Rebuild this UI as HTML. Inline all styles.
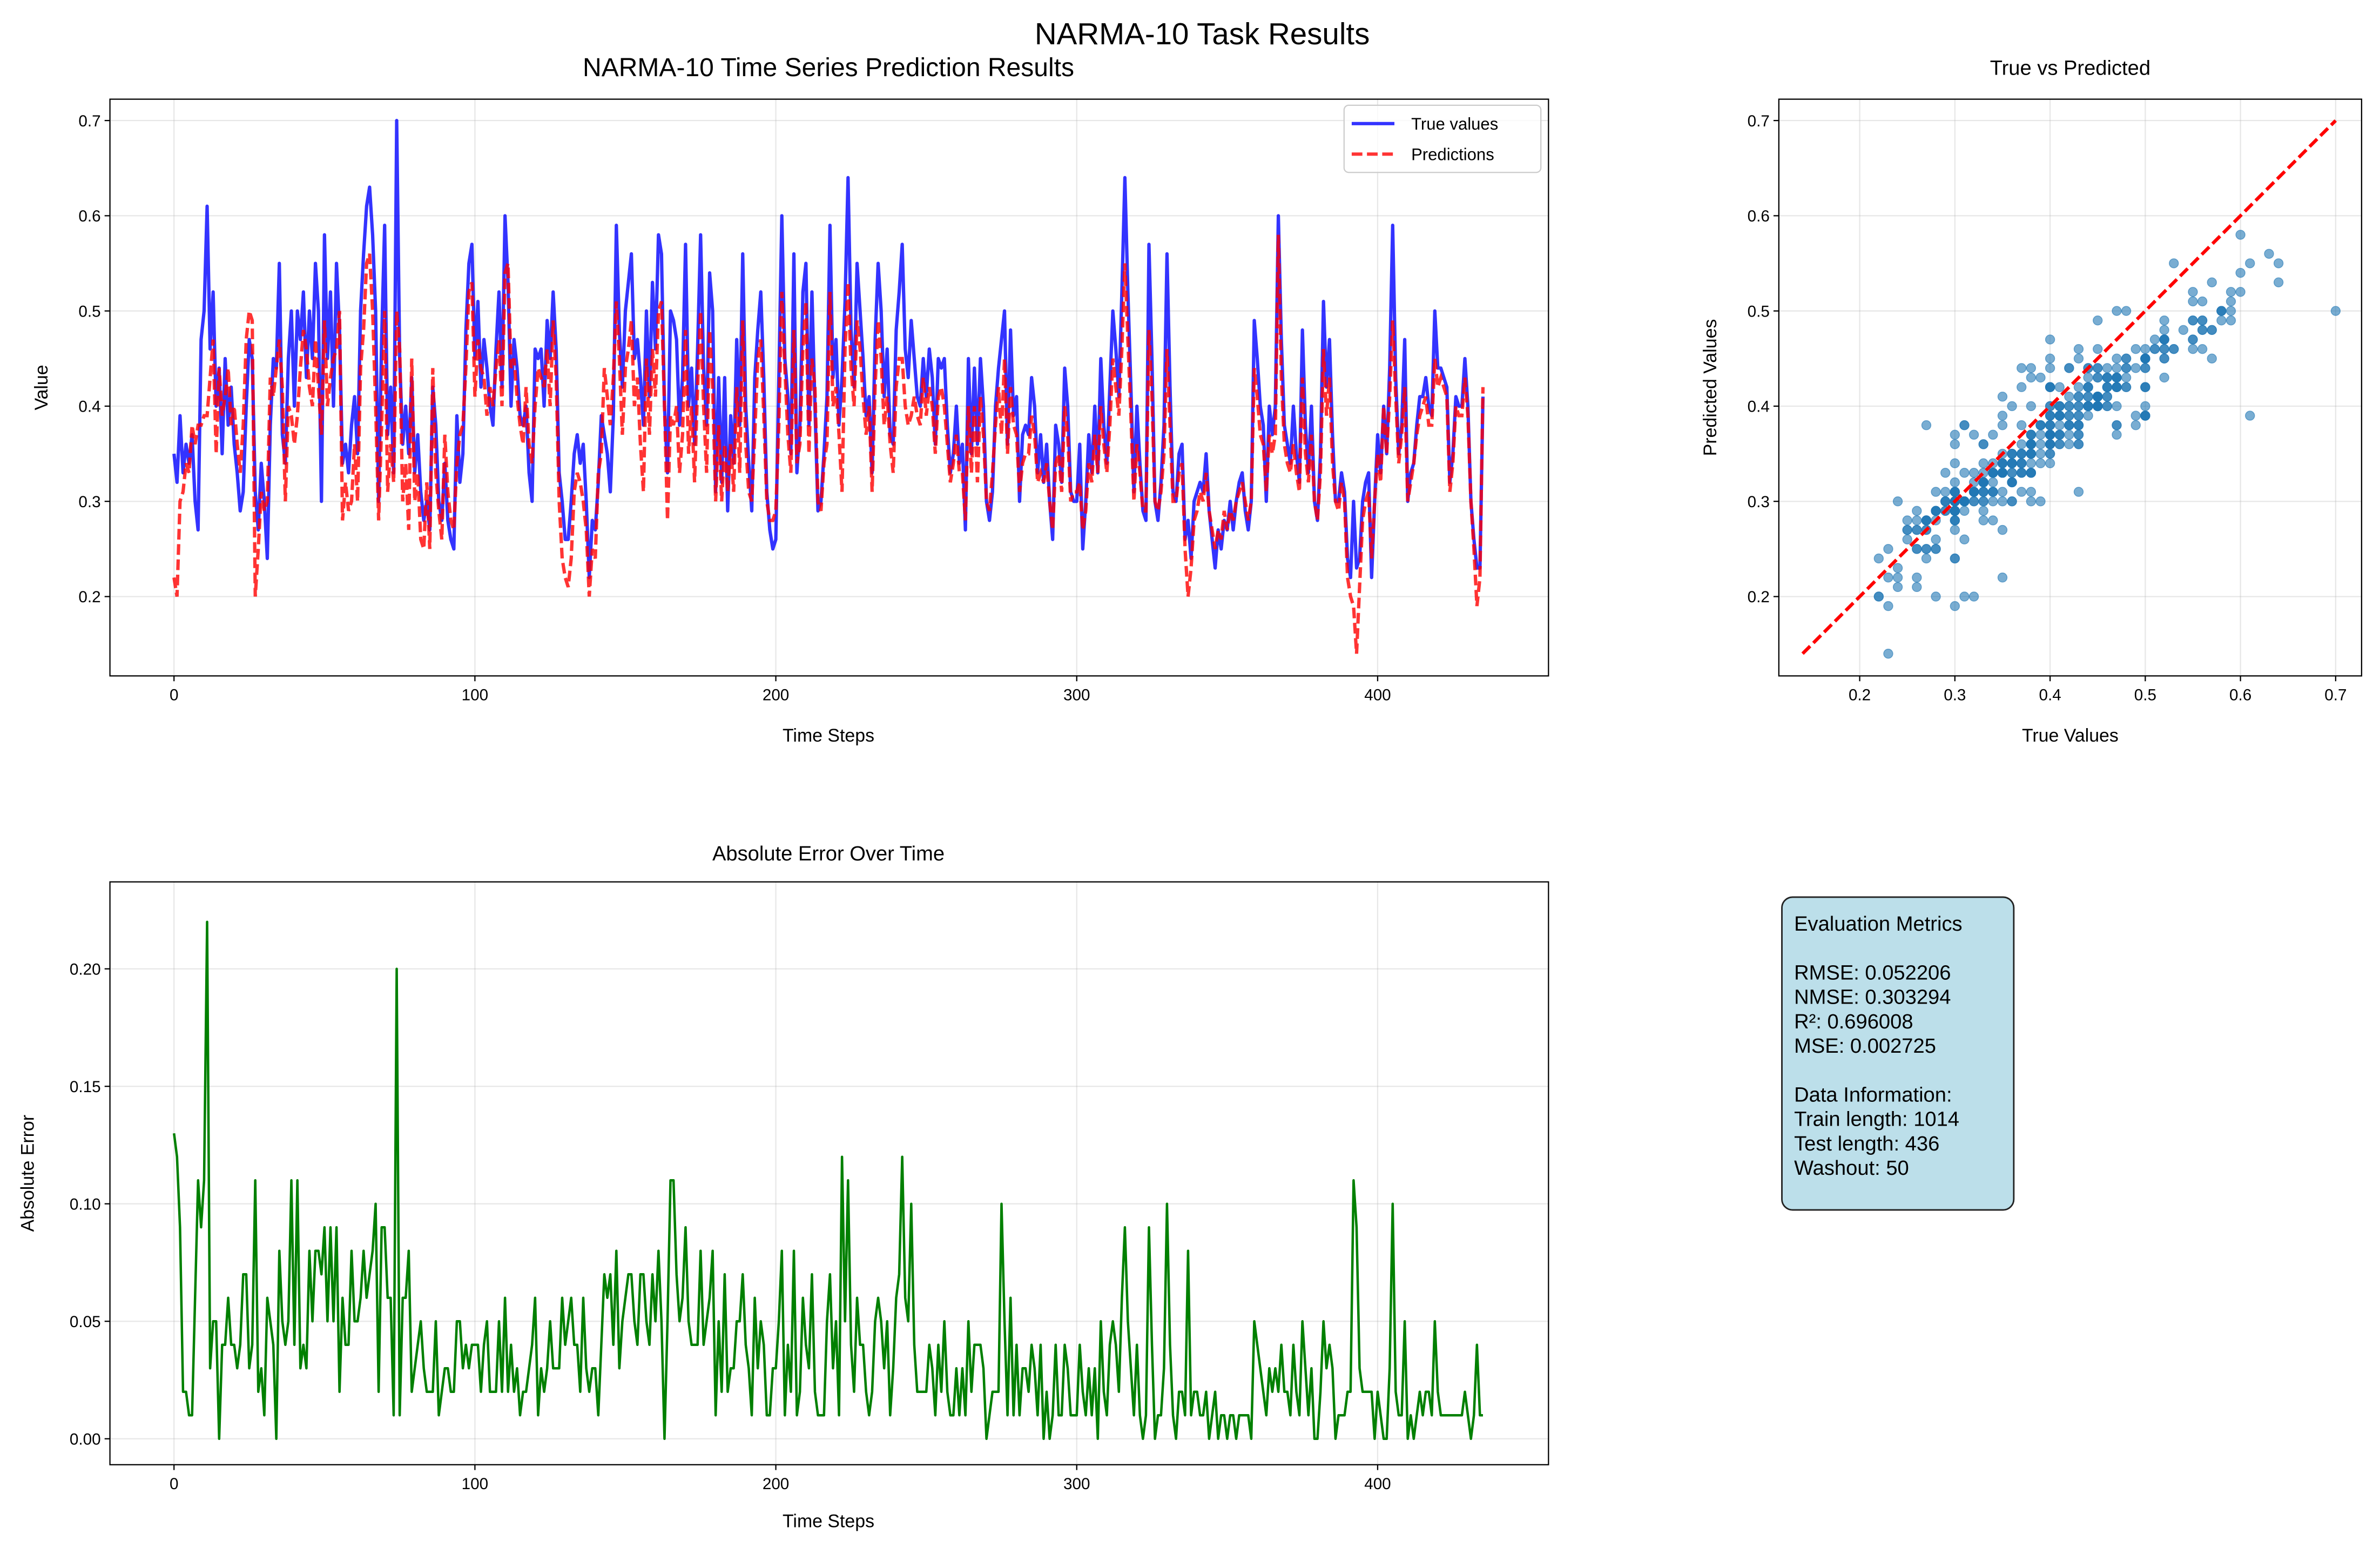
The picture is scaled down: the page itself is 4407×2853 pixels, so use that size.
<!DOCTYPE html>
<html><head><meta charset="utf-8"><style>
html,body{margin:0;padding:0;background:#fff;}
svg{display:block;font-family:"Liberation Sans","DejaVu Sans",sans-serif;}
</style></head><body>
<svg id="fig" xmlns="http://www.w3.org/2000/svg" width="4407" height="2853" viewBox="0 0 1560 1010">
<rect x="0" y="0" width="1560" height="1010" fill="#fff"/>
<text x="788" y="29" font-size="20" text-anchor="middle">NARMA-10 Task Results</text>
<g id="g-main"></g>
<g id="g-scatter"></g>
<g id="g-err"></g>
<g>
<rect x="1168" y="588" width="152" height="205" rx="7" ry="7" fill="#bcdfea" stroke="#222" stroke-width="1"/>
<text font-size="13.5" fill="#000">
<tspan x="1176" y="610">Evaluation Metrics</tspan>
<tspan x="1176" y="642">RMSE: 0.052206</tspan>
<tspan x="1176" y="658">NMSE: 0.303294</tspan>
<tspan x="1176" y="674">R²: 0.696008</tspan>
<tspan x="1176" y="690">MSE: 0.002725</tspan>
<tspan x="1176" y="722">Data Information:</tspan>
<tspan x="1176" y="738">Train length: 1014</tspan>
<tspan x="1176" y="754">Test length: 436</tspan>
<tspan x="1176" y="770">Washout: 50</tspan>
</text>
</g>
</svg>
<script>
const trueVals=[.35,.32,.39,.33,.36,.34,.37,.30,.27,.47,.50,.61,.46,.52,.40,.44,.35,.45,.38,.42,
.36,.33,.29,.31,.40,.47,.45,.31,.27,.34,.30,.24,.38,.45,.44,.55,.37,.34,.45,.50,
.40,.50,.47,.52,.43,.50,.45,.55,.50,.30,.58,.45,.52,.40,.55,.48,.34,.36,.33,.38,
.41,.35,.50,.56,.61,.63,.58,.50,.30,.47,.59,.37,.42,.33,.70,.45,.36,.40,.35,.43,
.33,.37,.31,.28,.30,.27,.42,.38,.30,.28,.34,.28,.26,.25,.39,.32,.35,.48,.55,.57,
.45,.51,.42,.47,.44,.40,.38,.46,.52,.42,.60,.53,.40,.47,.44,.39,.38,.40,.33,.30,
.46,.45,.46,.40,.49,.45,.52,.46,.33,.30,.26,.26,.30,.35,.37,.34,.36,.30,.22,.28,
.27,.32,.39,.37,.35,.31,.39,.59,.48,.42,.50,.53,.56,.45,.47,.43,.38,.50,.41,.53,
.46,.58,.56,.40,.33,.50,.49,.47,.38,.43,.57,.40,.44,.36,.46,.58,.44,.38,.54,.50,
.31,.43,.32,.43,.29,.39,.34,.47,.38,.56,.40,.34,.29,.43,.48,.52,.43,.31,.27,.25,
.26,.43,.60,.45,.41,.35,.56,.33,.38,.52,.55,.38,.52,.40,.29,.30,.35,.41,.59,.43,
.47,.38,.43,.51,.64,.48,.42,.55,.50,.45,.39,.41,.33,.47,.55,.50,.41,.46,.37,.36,
.48,.52,.57,.46,.43,.49,.45,.41,.40,.45,.41,.46,.43,.36,.45,.44,.45,.38,.33,.35,
.40,.34,.36,.27,.45,.35,.44,.36,.45,.40,.30,.28,.31,.40,.44,.47,.50,.36,.48,.39,
.41,.30,.37,.38,.37,.43,.40,.33,.37,.32,.36,.30,.26,.38,.36,.32,.44,.40,.31,.30,
.30,.36,.25,.30,.37,.33,.40,.33,.45,.38,.34,.42,.50,.46,.41,.52,.64,.52,.42,.31,
.40,.34,.29,.28,.57,.45,.30,.28,.32,.38,.56,.42,.31,.30,.35,.36,.26,.28,.24,.30,
.31,.32,.31,.35,.29,.26,.23,.27,.25,.28,.27,.30,.27,.30,.32,.33,.29,.27,.30,.49,
.45,.40,.38,.30,.40,.37,.40,.60,.47,.38,.36,.34,.40,.35,.32,.48,.38,.33,.40,.30,
.28,.35,.51,.42,.47,.37,.30,.30,.33,.31,.24,.22,.30,.23,.24,.30,.32,.33,.22,.30,
.37,.33,.40,.35,.44,.59,.43,.35,.38,.47,.30,.33,.34,.38,.41,.41,.43,.40,.39,.50,
.44,.44,.43,.42,.32,.35,.41,.40,.40,.45,.40,.30,.26,.23,.23,.41];
const predVals=[.22,.20,.30,.31,.34,.33,.38,.36,.38,.38,.39,.39,.43,.47,.35,.44,.39,.41,.44,.38,
.40,.36,.33,.38,.47,.50,.49,.20,.25,.31,.29,.30,.43,.41,.44,.47,.42,.30,.40,.39,
.36,.39,.44,.48,.46,.42,.40,.47,.42,.37,.49,.40,.43,.45,.46,.50,.28,.32,.29,.30,
.36,.30,.44,.48,.55,.56,.50,.40,.28,.38,.50,.31,.36,.32,.50,.46,.30,.34,.27,.45,
.30,.33,.26,.25,.32,.25,.44,.33,.29,.26,.37,.31,.28,.27,.34,.37,.38,.44,.52,.53,
.41,.47,.44,.43,.39,.42,.40,.44,.47,.40,.54,.55,.44,.45,.41,.38,.36,.42,.36,.34,
.40,.44,.43,.42,.46,.40,.49,.43,.30,.24,.22,.21,.24,.31,.33,.32,.30,.27,.20,.25,
.24,.33,.35,.44,.41,.38,.43,.51,.45,.37,.44,.46,.49,.40,.43,.36,.31,.45,.37,.46,
.41,.50,.51,.40,.28,.39,.38,.40,.33,.37,.48,.35,.40,.32,.42,.50,.40,.33,.48,.42,
.30,.38,.30,.36,.31,.36,.31,.42,.33,.49,.36,.31,.30,.37,.45,.47,.39,.30,.28,.28,
.29,.38,.52,.44,.37,.33,.48,.34,.36,.46,.51,.35,.45,.42,.30,.29,.34,.36,.52,.40,
.42,.37,.31,.46,.53,.44,.40,.49,.46,.41,.37,.40,.31,.42,.49,.45,.38,.41,.36,.33,
.42,.45,.45,.40,.38,.39,.41,.39,.38,.43,.39,.42,.40,.35,.41,.42,.40,.36,.32,.34,
.37,.33,.33,.28,.40,.33,.40,.32,.41,.37,.30,.29,.33,.38,.42,.37,.45,.35,.42,.38,
.37,.31,.34,.35,.35,.39,.37,.32,.33,.32,.34,.30,.27,.34,.35,.31,.40,.37,.30,.31,
.31,.32,.27,.29,.34,.32,.37,.33,.40,.36,.33,.38,.45,.42,.39,.46,.55,.47,.39,.30,
.36,.33,.29,.29,.48,.41,.30,.29,.31,.35,.46,.38,.30,.30,.33,.34,.25,.20,.23,.28,
.29,.31,.30,.33,.29,.27,.25,.27,.26,.29,.27,.29,.28,.30,.31,.32,.30,.28,.30,.44,
.41,.37,.36,.31,.37,.35,.37,.58,.43,.36,.34,.33,.36,.33,.31,.43,.35,.32,.37,.30,
.28,.33,.46,.39,.43,.34,.30,.29,.32,.30,.22,.20,.19,.14,.21,.28,.30,.31,.24,.30,
.35,.32,.40,.35,.41,.49,.41,.34,.37,.42,.30,.32,.34,.37,.39,.40,.41,.38,.38,.45,
.42,.43,.42,.41,.31,.34,.40,.39,.39,.43,.39,.30,.25,.19,.22,.42];
const timeTicks=[0,100,200,300,400];
const valueTicks=[0.2,0.3,0.4,0.5,0.6,0.7];
const errTicks=[0,0.05,0.10,0.15,0.20];
const errTickLabels=["0.00","0.05","0.10","0.15","0.20"];
const scatterXTicks=[0.2,0.3,0.4,0.5,0.6,0.7];
const errVals=trueVals.map((v,i)=>Math.abs(v-predVals[i]));

const NS="http://www.w3.org/2000/svg";
function mk(parent,tag,attrs,text){const e=document.createElementNS(NS,tag);for(const k in attrs)e.setAttribute(k,attrs[k]);if(text!==undefined)e.textContent=text;parent.appendChild(e);return e;}
function lin(d0,d1,r0,r1){return v=>r0+(v-d0)*(r1-r0)/(d1-d0);}
function frame(g,L,T,R,B,xs,ys,xt,xl,yt,yl){
  xt.forEach((t,i)=>{const x=xs(t);
    const gl=mk(g,'line',{x1:x,x2:x,y1:T,y2:B,stroke:'#b0b0b0','stroke-opacity':0.3,'stroke-width':0.8});
    
    mk(g,'line',{x1:x,x2:x,y1:B,y2:B+3.5,stroke:'#000','stroke-width':0.8});
    const tl=mk(g,'text',{x:x,y:B+16,'font-size':10.5,'text-anchor':'middle'},xl[i]);
    });
  yt.forEach((t,i)=>{const y=ys(t);
    const gl=mk(g,'line',{x1:L,x2:R,y1:y,y2:y,stroke:'#b0b0b0','stroke-opacity':0.3,'stroke-width':0.8});
    
    mk(g,'line',{x1:L-3.5,x2:L,y1:y,y2:y,stroke:'#000','stroke-width':0.8});
    const tl=mk(g,'text',{x:L-6,y:y+3.8,'font-size':10.5,'text-anchor':'end'},yl[i]);
    });
}
function border(g,L,T,R,B){const r=mk(g,'rect',{x:L,y:T,width:R-L,height:B-T,fill:'none',stroke:'#000','stroke-width':0.8});
  }
function pathOf(vals,xs,ys){return vals.map((v,i)=>(i?'L':'M')+xs(i).toFixed(2)+' '+ys(v).toFixed(2)).join('');}

(function(){
  const g=document.getElementById('g-main');
  const L=72,T=65,R=1015,B=443;
  const xs=lin(0,400,114,903), ys=lin(0.2,0.7,391,79);
  frame(g,L,T,R,B,xs,ys,timeTicks,timeTicks.map(String),valueTicks,valueTicks.map(v=>v.toFixed(1)));
  const cp=mk(g,'clipPath',{id:'cm'});mk(cp,'rect',{x:L,y:T,width:R-L,height:B-T});
  const tl=mk(g,'path',{d:pathOf(trueVals,xs,ys),fill:'none',stroke:'#0000ff','stroke-opacity':0.8,'stroke-width':2.2,'stroke-linejoin':'round','clip-path':'url(#cm)'});
  
  const pl=mk(g,'path',{d:pathOf(predVals,xs,ys),fill:'none',stroke:'#ff0000','stroke-opacity':0.8,'stroke-width':2.2,'stroke-dasharray':'7 3','clip-path':'url(#cm)'});
  
  border(g,L,T,R,B);
  const lg=mk(g,'g',{});
  mk(lg,'rect',{x:881,y:69,width:129,height:44,rx:3,fill:'#fff','fill-opacity':0.8,stroke:'#ccc','stroke-width':0.8});
  mk(lg,'line',{x1:886,x2:914,y1:81,y2:81,stroke:'#0000ff','stroke-opacity':0.8,'stroke-width':2.2});
  mk(lg,'text',{x:925,y:85,'font-size':11},'True values');
  mk(lg,'line',{x1:886,x2:914,y1:101,y2:101,stroke:'#ff0000','stroke-opacity':0.8,'stroke-width':2.2,'stroke-dasharray':'7 3'});
  mk(lg,'text',{x:925,y:105,'font-size':11},'Predictions');
  const t=mk(g,'text',{x:543,y:50,'font-size':17,'text-anchor':'middle'},'NARMA-10 Time Series Prediction Results');
  
  const xl=mk(g,'text',{x:543,y:486,'font-size':12,'text-anchor':'middle'},'Time Steps');
  
  const yl=mk(g,'text',{x:31,y:254,'font-size':12,'text-anchor':'middle',transform:'rotate(-90 31 254)'},'Value');
  
})();

(function(){
  const g=document.getElementById('g-scatter');
  const L=1166,T=65,R=1548,B=443;
  const xs=lin(0.2,0.7,1219,1531), ys=lin(0.2,0.7,391,79);
  frame(g,L,T,R,B,xs,ys,scatterXTicks,scatterXTicks.map(v=>v.toFixed(1)),valueTicks,valueTicks.map(v=>v.toFixed(1)));
  trueVals.forEach((v,i)=>{
    const c=mk(g,'circle',{cx:xs(v),cy:ys(predVals[i]),r:3,fill:'#1f77b4','fill-opacity':0.6,stroke:'#1f77b4','stroke-opacity':0.6,'stroke-width':0.5});
    
  });
  const lo=Math.min(Math.min(...trueVals),Math.min(...predVals)), hi=Math.max(Math.max(...trueVals),Math.max(...predVals));
  const d=mk(g,'line',{x1:xs(lo),y1:ys(lo),x2:xs(hi),y2:ys(hi),stroke:'#ff0000','stroke-width':2.2,'stroke-dasharray':'7 3'});
  
  border(g,L,T,R,B);
  const t=mk(g,'text',{x:1357,y:49,'font-size':13.5,'text-anchor':'middle'},'True vs Predicted');
  
  const xl=mk(g,'text',{x:1357,y:486,'font-size':12,'text-anchor':'middle'},'True Values');
  
  const yl=mk(g,'text',{x:1125,y:254,'font-size':12,'text-anchor':'middle',transform:'rotate(-90 1125 254)'},'Predicted Values');
  
})();

(function(){
  const g=document.getElementById('g-err');
  const L=72,T=578,R=1015,B=960;
  const xs=lin(0,400,114,903), ys=lin(0,0.2,943,635);
  frame(g,L,T,R,B,xs,ys,timeTicks,timeTicks.map(String),errTicks,errTickLabels);
  const p=mk(g,'path',{d:pathOf(errVals,xs,ys),fill:'none',stroke:'#008000','stroke-width':1.6,'stroke-linejoin':'round'});
  
  border(g,L,T,R,B);
  const t=mk(g,'text',{x:543,y:564,'font-size':13.5,'text-anchor':'middle'},'Absolute Error Over Time');
  
  const xl=mk(g,'text',{x:543,y:1001,'font-size':12,'text-anchor':'middle'},'Time Steps');
  
  const yl=mk(g,'text',{x:22,y:769,'font-size':12,'text-anchor':'middle',transform:'rotate(-90 22 769)'},'Absolute Error');
  
})();
</script>
</body></html>
